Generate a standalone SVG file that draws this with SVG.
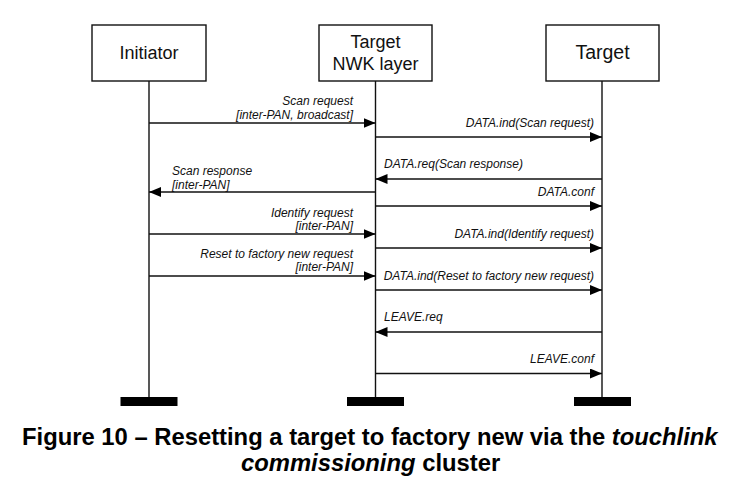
<svg xmlns="http://www.w3.org/2000/svg" width="743" height="497" viewBox="0 0 743 497">
<style>
.box{fill:#fff;stroke:#111;stroke-width:1.4}
.life{stroke:#111;stroke-width:1.4;fill:none}
.msg{stroke:#111;stroke-width:1.4;fill:none;marker-end:url(#ah)}
.bar{fill:#000}
.t{font-family:"Liberation Sans",Arial,sans-serif;fill:#111}
.hd{font-size:18px;text-anchor:middle}
.lb{font-size:12px;font-style:italic}
.e{text-anchor:end}
.cap{font-size:23.8px;font-weight:bold;fill:#000}
</style>
<defs>
<marker id="ah" markerUnits="userSpaceOnUse" markerWidth="12" markerHeight="10" refX="12" refY="5" orient="auto">
<path d="M0,0 L12,5 L0,10 z" fill="#000"/>
</marker>
</defs>
<rect width="743" height="497" fill="#fff"/>
<g id="initiator">
<rect class="box" x="92" y="25" width="114" height="56"/>
<text class="t hd" x="149" y="59">Initiator</text>
<line class="life" x1="149" y1="81" x2="149" y2="398"/>
<rect class="bar" x="120.5" y="397" width="57" height="9"/>
</g>
<g id="target-nwk">
<rect class="box" x="319" y="25" width="113" height="56"/>
<text class="t hd" x="375.5" y="48">Target</text>
<text class="t hd" x="375.5" y="70">NWK layer</text>
<line class="life" x1="375.5" y1="81" x2="375.5" y2="398"/>
<rect class="bar" x="347" y="397" width="57" height="9"/>
</g>
<g id="target">
<rect class="box" x="546" y="25" width="113" height="56"/>
<text class="t hd" x="602.5" y="59" style="font-size:19.5px">Target</text>
<line class="life" x1="602" y1="81" x2="602" y2="398"/>
<rect class="bar" x="574" y="397" width="57" height="9"/>
</g>
<g id="connectors">
<line class="msg" x1="149" y1="123" x2="375.5" y2="123"/>
<line class="msg" x1="375.5" y1="137" x2="602" y2="137"/>
<line class="msg" x1="602" y1="179" x2="375.5" y2="179"/>
<line class="msg" x1="375.5" y1="192" x2="149" y2="192"/>
<line class="msg" x1="375.5" y1="206" x2="602" y2="206"/>
<line class="msg" x1="149" y1="234" x2="375.5" y2="234"/>
<line class="msg" x1="375.5" y1="248" x2="602" y2="248"/>
<line class="msg" x1="149" y1="276" x2="375.5" y2="276"/>
<line class="msg" x1="375.5" y1="290" x2="602" y2="290"/>
<line class="msg" x1="602" y1="332" x2="375.5" y2="332"/>
<line class="msg" x1="375.5" y1="373.5" x2="602" y2="373.5"/>
</g>
<g id="labels">
<text class="t lb e" x="353" y="105">Scan request</text>
<text class="t lb e" x="353" y="119">[inter-PAN, broadcast]</text>
<text class="t lb e" x="594" y="127">DATA.ind(Scan request)</text>
<text class="t lb" x="384" y="168">DATA.req(Scan response)</text>
<text class="t lb" x="172" y="175">Scan response</text>
<text class="t lb" x="172" y="189">[inter-PAN]</text>
<text class="t lb e" x="594" y="196">DATA.conf</text>
<text class="t lb e" x="353" y="217">Identify request</text>
<text class="t lb e" x="353" y="230">[inter-PAN]</text>
<text class="t lb e" x="594" y="238">DATA.ind(Identify request)</text>
<text class="t lb e" x="353" y="258">Reset to factory new request</text>
<text class="t lb e" x="353" y="271">[inter-PAN]</text>
<text class="t lb e" x="594" y="280">DATA.ind(Reset to factory new request)</text>
<text class="t lb" x="384" y="321">LEAVE.req</text>
<text class="t lb e" x="594" y="363">LEAVE.conf</text>
</g>
<g id="caption">
<text class="t cap" x="22" y="444.5">Figure 10 – Resetting a target to factory new via the <tspan font-style="italic">touchlink</tspan></text>
<text class="t cap" x="241" y="471"><tspan font-style="italic">commissioning</tspan> cluster</text>
</g>
</svg>
